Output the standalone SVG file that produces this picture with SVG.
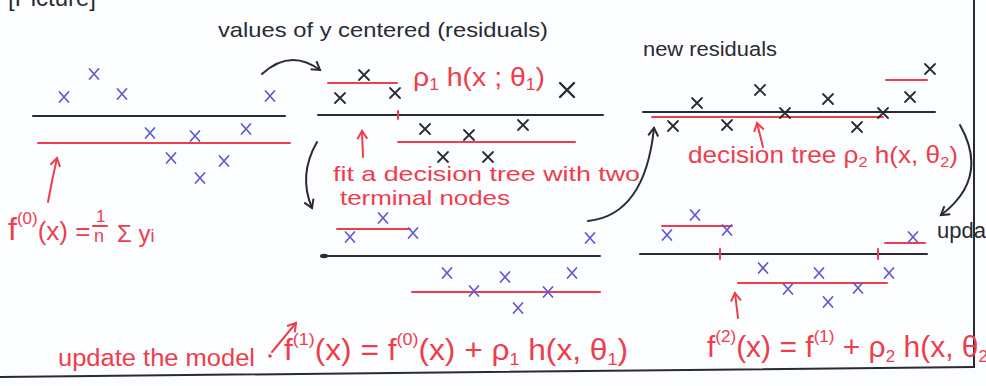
<svg xmlns="http://www.w3.org/2000/svg" width="986" height="386" viewBox="0 0 986 386">
<style>
.k{stroke:#2a2a32;stroke-width:2;fill:none;stroke-linecap:round}
.r{stroke:#ee3d4c;stroke-width:2;fill:none;stroke-linecap:round}
.t{font-family:"Liberation Sans",Arial,sans-serif}
.rt{fill:#ee3d4c}
.kt{fill:#2a2a32}
</style>
<defs>
<path id="xb" d="M-4.5,-5L4.5,5M-4.5,5L4.5,-5" stroke="#5a5ad6" stroke-width="1.7" stroke-linecap="round"/>
<path id="xk" d="M-5,-5L5,5M-5,5L5,-5" stroke="#2a2a35" stroke-width="1.8" stroke-linecap="round"/>
<path id="xkl" d="M-7,-7L7,7M-7,7L7,-7" stroke="#2a2a35" stroke-width="2.4" stroke-linecap="round"/>
<marker id="ak" markerWidth="12" markerHeight="12" refX="9" refY="6" orient="auto" markerUnits="userSpaceOnUse">
<path d="M1,1L9,6L1,11" fill="none" stroke="#2a2a32" stroke-width="2"/>
</marker>
<marker id="ar" markerWidth="12" markerHeight="12" refX="9" refY="6" orient="auto" markerUnits="userSpaceOnUse">
<path d="M1,1L9,6L1,11" fill="none" stroke="#ee3d4c" stroke-width="2"/>
</marker>
</defs>
<rect width="986" height="386" fill="#fcfdff"/>

<g id="frame">
<text class="t kt" x="8" y="6" font-size="24">[Picture]</text>
<line class="k" x1="0" y1="377" x2="974" y2="367"/>
<line class="k" x1="974" y1="0" x2="974" y2="367"/>
</g>

<g id="title-label">
<text class="t kt" x="218" y="37" font-size="21" textLength="330" lengthAdjust="spacingAndGlyphs">values of y centered (residuals)</text>
</g>

<g id="panel-initial">
<line class="k" x1="33" y1="116" x2="285" y2="116" stroke-width="1.6"/>
<line class="r" x1="38" y1="143" x2="290" y2="143"/>
<use href="#xb" x="64" y="97"/>
<use href="#xb" x="94" y="74"/>
<use href="#xb" x="122" y="94"/>
<use href="#xb" x="270" y="96"/>
<use href="#xb" x="150" y="133"/>
<use href="#xb" x="195" y="136"/>
<use href="#xb" x="246" y="129"/>
<use href="#xb" x="171" y="158"/>
<use href="#xb" x="224" y="161"/>
<use href="#xb" x="200" y="178"/>
<text class="t rt" x="8" y="240" font-size="32">f<tspan dy="-16" font-size="17">(0)</tspan><tspan dy="16" font-size="26">(x) =</tspan></text>
<text class="t rt" x="96" y="222" font-size="17">1</text>
<line class="r" x1="93" y1="226" x2="107" y2="226" stroke-width="1.5"/>
<text class="t rt" x="94" y="242" font-size="18">n</text>
<text class="t rt" x="117" y="242" font-size="24">Σ y<tspan font-size="18">i</tspan></text>
</g>

<g id="panel-residuals-1">
<line class="k" x1="318" y1="115" x2="603" y2="115" stroke-width="1.6"/>
<line class="r" x1="398" y1="111" x2="398" y2="119"/>
<line class="r" x1="328" y1="83" x2="397" y2="83"/>
<line class="r" x1="398" y1="142" x2="575" y2="142"/>
<use href="#xk" x="364" y="75"/>
<use href="#xk" x="340" y="98"/>
<use href="#xk" x="395" y="93"/>
<use href="#xkl" x="567" y="90"/>
<use href="#xk" x="425" y="129"/>
<use href="#xk" x="469" y="135"/>
<use href="#xk" x="523" y="125"/>
<use href="#xk" x="443" y="157"/>
<use href="#xk" x="488" y="157"/>
<text class="t rt" x="413" y="86" font-size="26" textLength="132" lengthAdjust="spacingAndGlyphs">ρ<tspan font-size="16" dy="4">1</tspan><tspan dy="-4"> h(x ; θ</tspan><tspan font-size="16" dy="4">1</tspan><tspan dy="-4">)</tspan></text>
<text class="t rt" x="333" y="181" font-size="21" textLength="307" lengthAdjust="spacingAndGlyphs">fit a decision tree with two</text>
<text class="t rt" x="340" y="205" font-size="21" textLength="170" lengthAdjust="spacingAndGlyphs">terminal nodes</text>
</g>

<g id="panel-model-1">
<line class="r" x1="337" y1="229" x2="410" y2="229"/>
<use href="#xb" x="383" y="218"/>
<use href="#xb" x="350" y="237"/>
<use href="#xb" x="413" y="233"/>
<use href="#xb" x="590" y="238"/>
<line class="k" x1="322" y1="256" x2="600" y2="256" stroke-width="2"/>
<ellipse cx="324" cy="256" rx="4" ry="2.2" fill="#2a2a32"/>
<line class="r" x1="412" y1="292" x2="600" y2="292"/>
<use href="#xb" x="447" y="273"/>
<use href="#xb" x="474" y="291"/>
<use href="#xb" x="505" y="277"/>
<use href="#xb" x="518" y="308"/>
<use href="#xb" x="548" y="292"/>
<use href="#xb" x="572" y="273"/>
</g>

<g id="panel-residuals-2">
<text class="t kt" x="643" y="56" font-size="20" textLength="134" lengthAdjust="spacingAndGlyphs">new residuals</text>
<line class="k" x1="643" y1="112" x2="935" y2="112" stroke-width="1.6"/>
<line class="r" x1="652" y1="117" x2="883" y2="117"/>
<line class="r" x1="886" y1="80" x2="927" y2="80"/>
<use href="#xk" x="697" y="103"/>
<use href="#xk" x="760" y="90"/>
<use href="#xk" x="785" y="113"/>
<use href="#xk" x="828" y="99"/>
<use href="#xk" x="883" y="113"/>
<use href="#xk" x="910" y="97"/>
<use href="#xk" x="930" y="69"/>
<use href="#xk" x="673" y="126"/>
<use href="#xk" x="727" y="125"/>
<use href="#xk" x="857" y="127"/>
<text class="t rt" x="688" y="163" font-size="24" textLength="270" lengthAdjust="spacingAndGlyphs">decision tree ρ<tspan font-size="15" dy="4">2</tspan><tspan dy="-4"> h(x, θ</tspan><tspan font-size="15" dy="4">2</tspan><tspan dy="-4">)</tspan></text>
</g>

<g id="panel-model-2">
<line class="r" x1="662" y1="226" x2="732" y2="226"/>
<line class="r" x1="885" y1="243" x2="925" y2="243"/>
<use href="#xb" x="695" y="215"/>
<use href="#xb" x="667" y="235"/>
<use href="#xb" x="727" y="230"/>
<use href="#xb" x="913" y="237"/>
<line class="k" x1="640" y1="254" x2="927" y2="254" stroke-width="1.8"/>
<line class="r" x1="720" y1="249" x2="720" y2="259"/>
<line class="r" x1="878" y1="249" x2="878" y2="259"/>
<line class="r" x1="738" y1="283" x2="887" y2="283"/>
<use href="#xb" x="763" y="268"/>
<use href="#xb" x="788" y="289"/>
<use href="#xb" x="819" y="273"/>
<use href="#xb" x="828" y="302"/>
<use href="#xb" x="858" y="288"/>
<use href="#xb" x="889" y="273"/>
<text class="t kt" x="937" y="238" font-size="22">update</text>
</g>

<g id="formulas">
<text class="t rt" x="58" y="366" font-size="23" textLength="197" lengthAdjust="spacingAndGlyphs">update the model</text>
<text class="t rt" x="284" y="360" font-size="30" textLength="344" lengthAdjust="spacingAndGlyphs">f<tspan dy="-15" font-size="17">(1)</tspan><tspan dy="15">(x) = f</tspan><tspan dy="-15" font-size="17">(0)</tspan><tspan dy="15">(x) + ρ</tspan><tspan font-size="17" dy="5">1</tspan><tspan dy="-5"> h(x, θ</tspan><tspan font-size="17" dy="5">1</tspan><tspan dy="-5">)</tspan></text>
<text class="t rt" x="707" y="357" font-size="30">f<tspan dy="-15" font-size="17">(2)</tspan><tspan dy="15">(x) = f</tspan><tspan dy="-15" font-size="17">(1)</tspan><tspan dy="15"> + ρ</tspan><tspan font-size="17" dy="5">2</tspan><tspan dy="-5"> h(x, θ</tspan><tspan font-size="17" dy="5">2</tspan><tspan dy="-5">)</tspan></text>
</g>

<g id="connectors">
<path class="k" d="M262,74 Q290,48 320,70" marker-end="url(#ak)"/>
<path class="k" d="M317,142 Q298,175 312,208" marker-end="url(#ak)"/>
<path class="k" d="M588,221 Q645,215 654,128" marker-end="url(#ak)"/>
<path class="k" d="M960,125 Q990,178 941,215" marker-end="url(#ak)"/>
<path class="r" d="M48,202 Q52,180 57,158" marker-end="url(#ar)"/>
<path class="r" d="M363,157 L362,131" marker-end="url(#ar)"/>
<path class="r" d="M763,147 L757,123" marker-end="url(#ar)"/>
<path class="r" d="M738,318 L735,293" marker-end="url(#ar)"/>
<circle cx="270" cy="356" r="1.8" fill="#ee3d4c"/>
<path class="r" d="M272,352 L296,323" marker-end="url(#ar)"/>
</g>
</svg>
